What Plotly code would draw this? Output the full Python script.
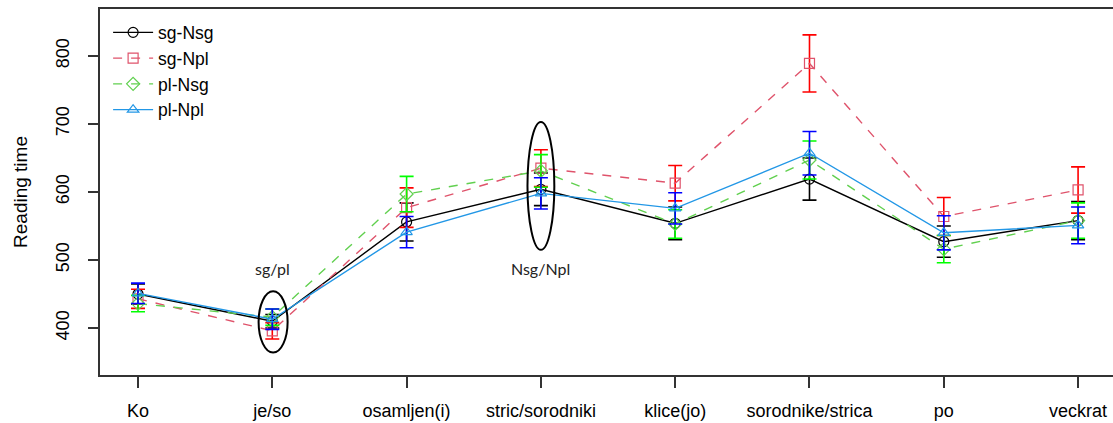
import plotly.graph_objects as go

categories = ["Ko", "je/so", "osamljen(i)", "stric/sorodniki", "klice(jo)",
              "sorodnike/strica", "po", "veckrat"]
series_names = ["sg-Nsg", "sg-Npl", "pl-Nsg", "pl-Npl"]
sg_Nsg = [450, 410, 556, 604, 554, 619, 527, 558]
sg_Nsg_err = [15, 10, 28, 24, 24, 31, 23, 28]
sg_Npl = [443, 396, 577, 635, 613, 789, 564, 603]
sg_Npl_err = [14, 12, 29, 27, 26, 42, 28, 34]
pl_Nsg = [436, 416, 597, 631, 553, 647, 516, 558]
pl_Nsg_err = [12, 12, 26, 24, 21, 28, 20, 26]
pl_Npl = [451, 413, 541, 598, 576, 657, 540, 551]
pl_Npl_err = [15, 15, 23, 23, 23, 32, 25, 27]
y_ticks = [400, 500, 600, 700, 800]

values = [sg_Nsg, sg_Npl, pl_Nsg, pl_Npl]
errors = [sg_Nsg_err, sg_Npl_err, pl_Nsg_err, pl_Npl_err]
line_colors = ["#000000", "#DF536B", "#61D04F", "#2297E6"]
err_colors = ["#000000", "#FF0000", "#00FF00", "#0000FF"]
dashes = ["solid", "dash", "dash", "solid"]
symbols = ["circle-open", "square-open", "diamond-open", "triangle-up-open"]

xs = list(range(len(categories)))
fig = go.Figure()
for name, v, e, lc, ec, d, s in zip(series_names, values, errors, line_colors,
                                     err_colors, dashes, symbols):
    fig.add_trace(go.Scatter(
        x=xs, y=v, name=name, mode="lines+markers",
        line=dict(color=lc, width=1.4, dash=d),
        marker=dict(symbol=s, size=10, color=lc, line=dict(color=lc, width=1.2)),
        error_y=dict(type="data", array=e, visible=True, color=ec,
                     thickness=1.6, width=7),
    ))

# ellipses
fig.add_shape(type="circle", xref="x", yref="y", x0=0.898, x1=1.114,
              y0=364, y1=454, line=dict(color="black", width=2))
fig.add_shape(type="circle", xref="x", yref="y", x0=2.9, x1=3.1,
              y0=515, y1=703, line=dict(color="black", width=2))
fig.add_annotation(x=1, y=488, text="sg/pl", showarrow=False,
                   font=dict(family="Lato, Open Sans, sans-serif", size=16, color="#222"))
fig.add_annotation(x=3, y=488, text="Nsg/Npl", showarrow=False,
                   font=dict(family="Lato, Open Sans, sans-serif", size=16, color="#222"))

fig.update_layout(
    width=1113, height=423,
    margin=dict(l=100, r=0, t=9, b=48),
    paper_bgcolor="white", plot_bgcolor="white",
    font=dict(family="Liberation Sans, Arial, sans-serif", size=18, color="black"),
    showlegend=True,
    legend=dict(x=0.008, y=0.985, xanchor="left", yanchor="top",
                bgcolor="rgba(0,0,0,0)", borderwidth=0,
                font=dict(size=17.5), tracegroupgap=0, itemwidth=40),
    xaxis=dict(range=[-0.283, 7.26], tickvals=xs, ticktext=categories,
               showgrid=False, zeroline=False, showline=True, mirror=True,
               linecolor="#333", linewidth=1.5, ticks="outside", ticklen=11,
               tickcolor="#333", tickwidth=1.5, ticklabelstandoff=8),
    yaxis=dict(range=[331, 869], tickvals=y_ticks, tickangle=-90,
               title=dict(text="Reading time", standoff=20, font=dict(size=19)),
               showgrid=False, zeroline=False, showline=True, mirror=False,
               linecolor="#333", linewidth=1.5, ticks="outside", ticklen=10,
               tickcolor="#333", tickwidth=1.5, ticklabelstandoff=12),
)
fig.write_html("out.html", config={"displayModeBar": False},
               post_script="document.body.style.margin='0px';")
